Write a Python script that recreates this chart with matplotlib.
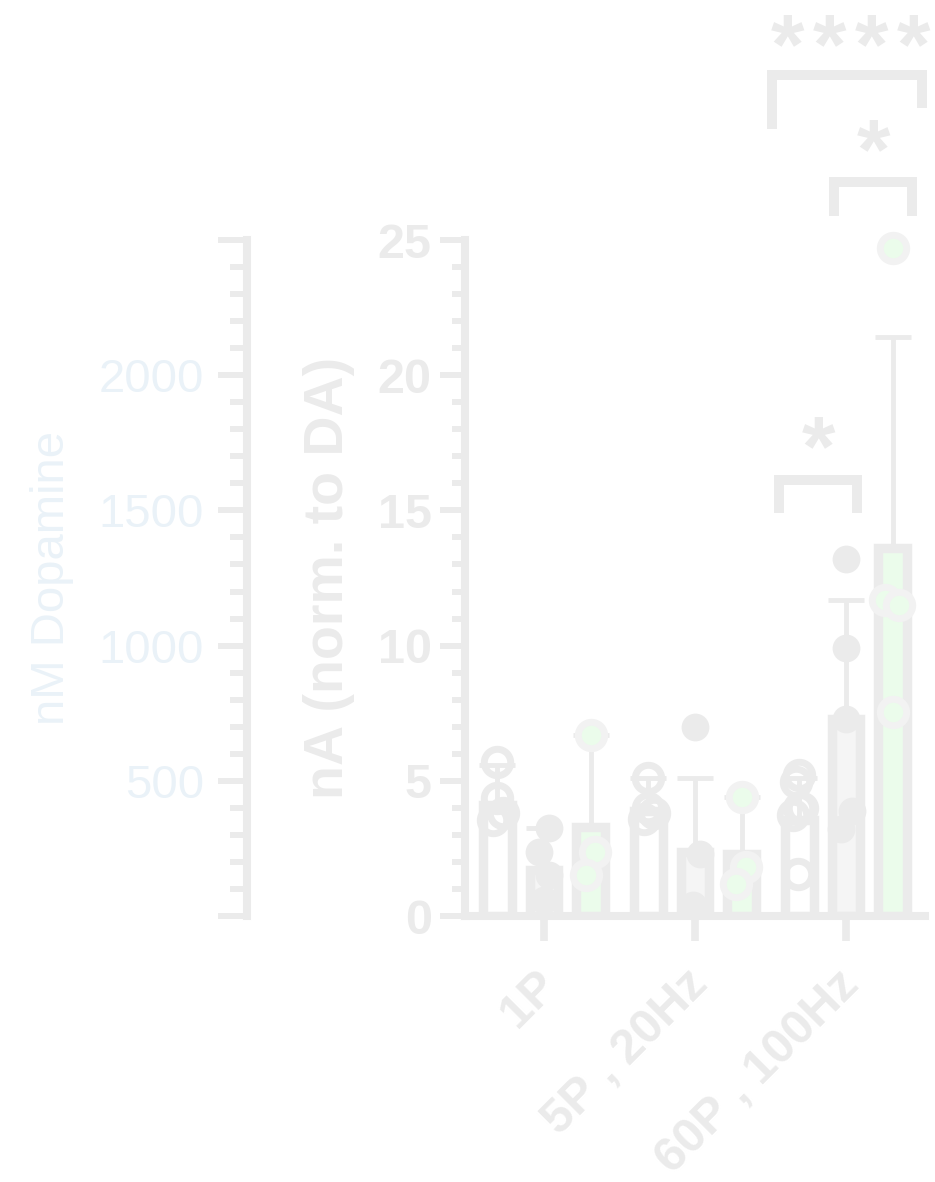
import numpy as np
import matplotlib.pyplot as plt
import matplotlib.transforms as mtransforms
from matplotlib.ticker import MultipleLocator, FuncFormatter

plt.rcParams['font.family'] = ['Liberation Sans', 'DejaVu Sans']

groups = ['1P', '5P , 20Hz', '60P , 100Hz']

# bar means (three conditions per group)
mean_a = [4.1, 3.9, 3.55]
mean_b = [1.7, 2.35, 7.3]
mean_c = [3.3, 2.3, 13.6]

# upper SD
sd_a = [1.5, 1.2, 1.55]
sd_b = [1.55, 2.75, 4.4]
sd_c = [3.4, 2.1, 7.8]

# individual points
pts_a = [[5.7, 4.35, 3.55, 3.8],
         [5.1, 4.0, 3.8, 3.6],
         [5.2, 4.95, 4.0, 3.75, 4.0, 1.55]]
pts_b = [[3.25, 2.35, 1.5, 0.6],
         [7.0, 2.3, 0.4],
         [13.2, 9.9, 7.3, 3.9, 3.2]]
pts_c = [[6.7, 2.35, 1.5],
         [4.4, 1.8, 1.2],
         [24.7, 11.7, 11.5, 7.55]]

# small horizontal scatter of the dots
jit_a = [[0.0, 0.0, -0.03, 0.04],
         [0.0, 0.0, 0.04, -0.03],
         [0.0, -0.02, 0.0, -0.04, 0.02, -0.01]]
jit_b = [[0.03, -0.03, 0.03, 0.0],
         [0.0, 0.03, -0.01],
         [0.0, 0.0, 0.0, 0.04, -0.03]]
jit_c = [[0.0, 0.03, -0.03],
         [0.0, 0.03, -0.04],
         [0.0, -0.05, 0.04, 0.0]]

gray = '#ebebeb'
green = '#ebfceb'
blue = '#eaf2f8'

fig = plt.figure(figsize=(9.35, 11.82), dpi=100)
ax = fig.add_axes([465/935, 1-916/1182, (925-465)/935, (916-240)/1182])
ax2 = fig.add_axes([247/935, 1-916/1182, 0.05, (916-240)/1182])

x = np.arange(len(groups))
off = 0.31
w = 0.19
lw_bar = 6.8

for shift, means, sds, fc in [(-off, mean_a, sd_a, 'white'),
                              (0, mean_b, sd_b, '#f5f5f5'),
                              (off, mean_c, sd_c, green)]:
    ax.errorbar(x + shift, means, yerr=[np.zeros(3), sds], fmt='none',
                ecolor=gray, elinewidth=3.5, capsize=13, capthick=3.5, zorder=1)
    ax.bar(x + shift, means, width=w, color=fc, edgecolor=gray,
           linewidth=lw_bar, zorder=2)

for i in range(3):
    ax.plot(x[i] - off + np.array(jit_a[i]), pts_a[i], 'o', ms=19, mfc='none',
            mec=gray, mew=5, zorder=3, clip_on=False)
    ax.plot(x[i] + np.array(jit_b[i]), pts_b[i], 'o', ms=20, mfc=gray,
            mec=gray, mew=0, zorder=3, clip_on=False)
    ax.plot(x[i] + off + np.array(jit_c[i]), pts_c[i], 'o', ms=19, mfc=green,
            mec='#f2f2f2', mew=5, zorder=3, clip_on=False)

ax.set_xlim(-0.523, 2.523)
ax.set_ylim(0, 25)
ax.yaxis.set_major_locator(MultipleLocator(5))
ax.yaxis.set_minor_locator(MultipleLocator(1))
ax.set_xticks(x)
ax.set_xticklabels([])
# rotated category labels, anchored at their right end below each tick
lab_tr = ax.get_xaxis_transform() + mtransforms.ScaledTranslation(
    6/100, -62/100, fig.dpi_scale_trans)
for xi, g in zip(x, groups):
    ax.text(xi, 0, g, transform=lab_tr, rotation=45, ha='right', va='center',
            rotation_mode='anchor', fontsize=35, fontweight='bold', color=gray,
            clip_on=False)
for lab in ax.get_yticklabels():
    lab.set_fontweight('bold')
ax.tick_params(axis='y', which='major', length=18, width=4.3, color=gray,
               labelsize=35, labelcolor=gray, pad=6)
ax.tick_params(axis='y', which='minor', length=9.5, width=4.3, color=gray)
ax.tick_params(axis='x', which='major', length=18, width=5.5, color=gray, pad=10)
for s in ['top', 'right']:
    ax.spines[s].set_visible(False)
for s in ['left', 'bottom']:
    ax.spines[s].set_linewidth(5.8)
    ax.spines[s].set_color(gray)
    ax.spines[s].set_capstyle('projecting')
ax.set_ylabel('nA (norm. to DA)', fontsize=40, fontweight='bold', color=gray,
              labelpad=16)
ax.patch.set_visible(False)

# significance brackets
blw = 7.2
def bracket(x0, x1, ytop, yl, yr, label_x, label_y, stars):
    ax.plot([x0, x0, x1, x1], [yl, ytop, ytop, yr], color=gray, lw=blw,
            solid_capstyle='butt', solid_joinstyle='miter', clip_on=False)
    n = len(stars)
    for k in range(n):
        ax.text(label_x + (k - (n - 1) / 2) * 0.278, label_y, '*', fontsize=62,
                fontweight='bold', color=gray, ha='center', va='center',
                clip_on=False)

bracket(1.51, 2.50, 31.1, 29.1, 29.9, 2.03, 32.0, '****')
bracket(1.92, 2.44, 27.15, 25.9, 25.9, 2.18, 28.1, '*')
bracket(1.556, 2.07, 16.12, 14.9, 14.9, 1.82, 17.1, '*')

# secondary concentration axis
ax2.set_ylim(0, 2500)
ax2.yaxis.set_major_locator(MultipleLocator(500))
ax2.yaxis.set_minor_locator(MultipleLocator(100))
ax2.yaxis.set_major_formatter(FuncFormatter(
    lambda v, p: '' if v in (0, 2500) else '%d' % v))
ax2.set_xticks([])
for s in ['top', 'right', 'bottom']:
    ax2.spines[s].set_visible(False)
ax2.spines['left'].set_linewidth(5.8)
ax2.spines['left'].set_color(gray)
ax2.spines['left'].set_capstyle('projecting')
ax2.tick_params(axis='y', which='major', length=21, width=4.3, color=gray,
                labelsize=34, labelcolor=blue, pad=10)
ax2.tick_params(axis='y', which='minor', length=12, width=4.3, color=gray)
ax2.set_ylabel('nM Dopamine', fontsize=34, color=blue, labelpad=18)
ax2.patch.set_visible(False)

fig.savefig('out.png', dpi=100)
